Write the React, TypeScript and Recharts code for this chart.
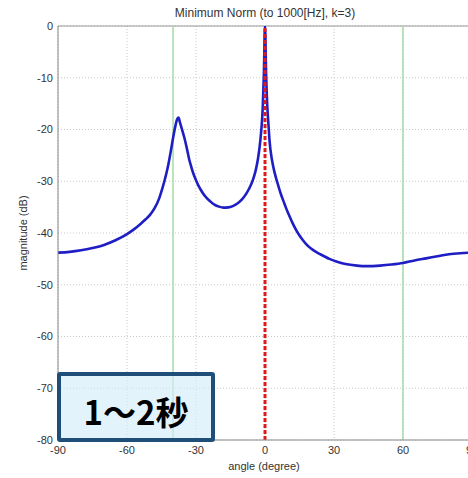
import React from "react";
import { LineChart, Line, XAxis, YAxis, CartesianGrid, ReferenceLine } from "recharts";

// Beam-pattern magnitude (dB) against arrival angle (degree)
const angles: number[] = [
  -90, -85, -80, -75, -70, -65, -60, -57, -54, -52, -50, -48, -46, -44.5, -43, -42, -41, -40, -39, -38.3,
  -37.6, -37, -36, -35, -34, -33, -32, -31, -30, -29, -28, -27, -26, -25, -24, -23, -22, -20, -18, -16,
  -14, -12, -10, -8, -7, -6, -5, -4, -3, -2, -1.5, -1, -0.5, 0, 0.5, 1, 1.5, 2, 3, 4, 5, 6, 7, 8, 9, 10,
  11, 12, 13.5, 15, 16.5, 18, 20, 22, 24, 28, 31, 35, 40, 44, 50, 55, 60, 65, 70, 75, 80, 85, 90,
];
const magnitudes: number[] = [
  -43.8, -43.65, -43.35, -42.9, -42.3, -41.4, -40.2, -39.3, -38.2, -37.4, -36.5, -35.2, -33.3, -31.2,
  -28.7, -26.7, -24.3, -21.7, -19.4, -18.1, -17.7, -18.6, -20.1, -21.7, -23.6, -25.7, -27.3, -28.7,
  -29.8, -30.8, -31.6, -32.3, -32.9, -33.4, -33.8, -34.2, -34.5, -34.9, -35.1, -35.05, -34.8, -34.3,
  -33.5, -32.3, -31.5, -30.6, -29.4, -27.8, -25.5, -22.0, -19.5, -16.0, -9.5, 0, -9.5, -15.5, -19.0,
  -22.3, -25.8, -28.0, -29.7, -31.2, -32.6, -33.8, -35.0, -36.1, -37.1, -38.1, -39.4, -40.5, -41.4,
  -42.2, -43.0, -43.6, -44.1, -45.0, -45.5, -46.0, -46.3, -46.4, -46.3, -46.1, -45.8, -45.3, -44.9,
  -44.5, -44.1, -43.9, -43.8,
];
const xTicks: number[] = [-90, -60, -30, 0, 30, 60, 90];
const yTicks: number[] = [-80, -70, -60, -50, -40, -30, -20, -10, 0];
const sourceAngles: number[] = [-40, 60];
const estimatedAngle = 0;

const data = angles.map((a, i) => ({ angle: a, mag: magnitudes[i] }));

const tickStyle = { fontSize: 11, fill: "#333", fontFamily: "Liberation Sans, Arial, sans-serif" };

export default function App() {
  return (
    <div style={{ position: "absolute", left: 0, top: 0, width: 468, height: 478, overflow: "hidden", background: "#fff" }}>
      <LineChart
        width={500}
        height={478}
        data={data}
        margin={{ top: 26, right: 28, bottom: 8, left: 0 }}
      >
        <CartesianGrid stroke="#c8c8c8" strokeDasharray="1 2" />
        <XAxis
          type="number"
          dataKey="angle"
          domain={[-90, 90]}
          ticks={xTicks}
          height={30}
          tickLine={false}
          tickSize={0}
          tickMargin={6}
          axisLine={{ stroke: "#888" }}
          tick={tickStyle}
          allowDataOverflow
        />
        <YAxis
          type="number"
          domain={[-80, 0]}
          ticks={yTicks}
          width={58}
          tickLine={false}
          tickSize={0}
          tickMargin={5}
          axisLine={{ stroke: "#888" }}
          tick={tickStyle}
          allowDataOverflow
        />
        <ReferenceLine y={0} stroke="#999" strokeWidth={1} />
        {sourceAngles.map((a) => (
          <ReferenceLine key={a} x={a} stroke="#a3dca3" strokeWidth={1.5} />
        ))}
        <Line
          type="monotone"
          dataKey="mag"
          stroke="#1e1ec4"
          strokeWidth={2.6}
          dot={false}
          isAnimationActive={false}
        />
        <ReferenceLine x={estimatedAngle} stroke="#e01a1a" strokeWidth={3} strokeDasharray="4 2" />
      </LineChart>

      <div
        style={{
          position: "absolute",
          left: 165,
          width: 200,
          top: 6,
          textAlign: "center",
          fontSize: 12,
          color: "#333",
          fontFamily: "Liberation Sans, Arial, sans-serif",
        }}
      >
        Minimum Norm (to 1000[Hz], k=3)
      </div>
      <div
        style={{
          position: "absolute",
          left: 214,
          width: 100,
          top: 460,
          textAlign: "center",
          fontSize: 11,
          color: "#333",
          fontFamily: "Liberation Sans, Arial, sans-serif",
        }}
      >
        angle (degree)
      </div>
      <div
        style={{
          position: "absolute",
          left: 23,
          top: 233,
          transform: "translate(-50%, -50%) rotate(-90deg)",
          whiteSpace: "nowrap",
          fontSize: 11,
          color: "#333",
          fontFamily: "Liberation Sans, Arial, sans-serif",
        }}
      >
        magnitude (dB)
      </div>

      <div
        style={{
          position: "absolute",
          left: 57,
          top: 372,
          width: 158,
          height: 70,
          boxSizing: "border-box",
          border: "4px solid #1f4e79",
          borderRadius: 3,
          background: "rgba(210, 236, 250, 0.65)",
          display: "flex",
          alignItems: "center",
          justifyContent: "center",
          paddingTop: 8,
          fontFamily: "Noto Sans CJK JP, sans-serif",
          fontWeight: 700,
          fontSize: 33,
          color: "#000",
        }}
      >
        1～2秒
      </div>
    </div>
  );
}
